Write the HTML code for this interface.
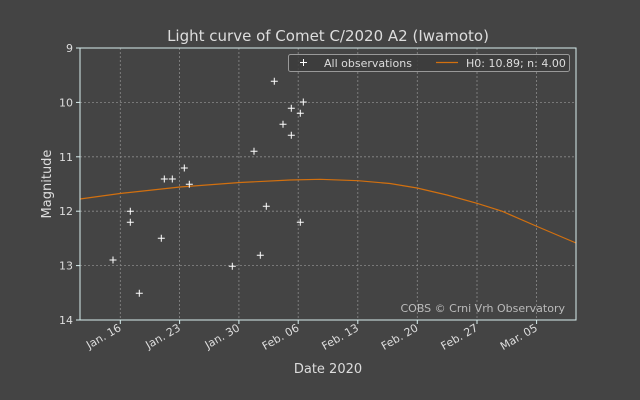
<!DOCTYPE html>
<html><head><meta charset="utf-8"><style>
html,body{margin:0;padding:0;background:#444444;}
svg{display:block;font-family:"DejaVu Sans","Liberation Sans",sans-serif;}
</style></head><body>
<svg width="640" height="400" viewBox="0 0 640 400" xmlns="http://www.w3.org/2000/svg">
<rect width="640" height="400" fill="#444444"/>
<g stroke="#8a8a8a" stroke-width="0.8" stroke-dasharray="2,2">
<line x1="120.3" y1="48" x2="120.3" y2="320"/>
<line x1="179.6" y1="48" x2="179.6" y2="320"/>
<line x1="238.9" y1="48" x2="238.9" y2="320"/>
<line x1="298.2" y1="48" x2="298.2" y2="320"/>
<line x1="357.8" y1="48" x2="357.8" y2="320"/>
<line x1="417.3" y1="48" x2="417.3" y2="320"/>
<line x1="477" y1="48" x2="477" y2="320"/>
<line x1="536.6" y1="48" x2="536.6" y2="320"/>
<line x1="80" y1="102.4" x2="576" y2="102.4"/>
<line x1="80" y1="156.8" x2="576" y2="156.8"/>
<line x1="80" y1="211.2" x2="576" y2="211.2"/>
<line x1="80" y1="265.6" x2="576" y2="265.6"/>
</g>
<polyline fill="none" stroke="#d2700f" stroke-width="1.2" points="80,199 120,193.5 180,187 240,182.5 290,180 320,179.3 358,180.7 390,183.5 417,188 447,195 477,203.3 502,211.2 536,226 556,234.5 576,243"/>
<g stroke="#ffffff" stroke-width="1">
<path d="M270.8 81.3h7M274.3 77.8v7 M299.8 102h7M303.3 98.5v7 M287.8 108.3h7M291.3 104.8v7 M296.8 113.3h7M300.3 109.8v7 M279.5 124.3h7M283 120.8v7 M287.8 135.3h7M291.3 131.8v7 M250.5 151.3h7M254 147.8v7 M180.8 168h7M184.3 164.5v7 M160.8 179h7M164.3 175.5v7 M168.8 179h7M172.3 175.5v7 M185.8 184.3h7M189.3 180.8v7 M262.8 206.3h7M266.3 202.8v7 M126.8 211.3h7M130.3 207.8v7 M126.8 222.3h7M130.3 218.8v7 M296.8 222.3h7M300.3 218.8v7 M157.8 238.3h7M161.3 234.8v7 M109.5 260h7M113 256.5v7 M256.8 255.3h7M260.3 251.8v7 M228.8 266.3h7M232.3 262.8v7 M135.8 293.3h7M139.3 289.8v7"/>
</g>
<rect x="80" y="48" width="496" height="272" fill="none" stroke="#d8eeee" stroke-width="1"/>
<g stroke="#d8eeee" stroke-width="1">
<line x1="76" y1="48" x2="80" y2="48"/><line x1="76" y1="102.4" x2="80" y2="102.4"/><line x1="76" y1="156.8" x2="80" y2="156.8"/><line x1="76" y1="211.2" x2="80" y2="211.2"/><line x1="76" y1="265.6" x2="80" y2="265.6"/><line x1="76" y1="320" x2="80" y2="320"/>
<line x1="120.3" y1="320" x2="120.3" y2="324"/><line x1="179.6" y1="320" x2="179.6" y2="324"/><line x1="238.9" y1="320" x2="238.9" y2="324"/><line x1="298.2" y1="320" x2="298.2" y2="324"/><line x1="357.8" y1="320" x2="357.8" y2="324"/><line x1="417.3" y1="320" x2="417.3" y2="324"/><line x1="477" y1="320" x2="477" y2="324"/><line x1="536.6" y1="320" x2="536.6" y2="324"/>
</g>
<g fill="#dddddd" font-size="11" text-anchor="end">
<text x="73" y="52">9</text><text x="73" y="106.4">10</text><text x="73" y="160.8">11</text><text x="73" y="215.2">12</text><text x="73" y="269.6">13</text><text x="73" y="324">14</text>
</g>
<g fill="#dddddd" font-size="11" text-anchor="end">
<text transform="translate(122,330) rotate(-30)">Jan. 16</text>
<text transform="translate(181.3,330) rotate(-30)">Jan. 23</text>
<text transform="translate(240.6,330) rotate(-30)">Jan. 30</text>
<text transform="translate(299.9,330) rotate(-30)">Feb. 06</text>
<text transform="translate(359.5,330) rotate(-30)">Feb. 13</text>
<text transform="translate(419,330) rotate(-30)">Feb. 20</text>
<text transform="translate(478.7,330) rotate(-30)">Feb. 27</text>
<text transform="translate(538.3,330) rotate(-30)">Mar. 05</text>
</g>
<text x="328" y="373" fill="#dddddd" font-size="13" text-anchor="middle">Date 2020</text>
<text transform="translate(51,184) rotate(-90)" fill="#dddddd" font-size="13" text-anchor="middle">Magnitude</text>
<text x="328" y="41" fill="#dddddd" font-size="15" text-anchor="middle">Light curve of Comet C/2020 A2 (Iwamoto)</text>
<text x="565" y="312" fill="#bbbbbb" font-size="11" text-anchor="end">COBS © Crni Vrh Observatory</text>
<rect x="288.5" y="54.5" width="281" height="17" rx="2" fill="#3c3c3c" fill-opacity="0.85" stroke="#999999" stroke-width="1"/>
<path d="M300 62.5h7M303.5 59v7" stroke="#ffffff" stroke-width="1"/>
<text x="324" y="67" fill="#dddddd" font-size="11">All observations</text>
<line x1="436" y1="62.5" x2="458" y2="62.5" stroke="#d2700f" stroke-width="1.2"/>
<text x="466" y="67" fill="#dddddd" font-size="11">H0: 10.89; n: 4.00</text>
</svg>
</body></html>
